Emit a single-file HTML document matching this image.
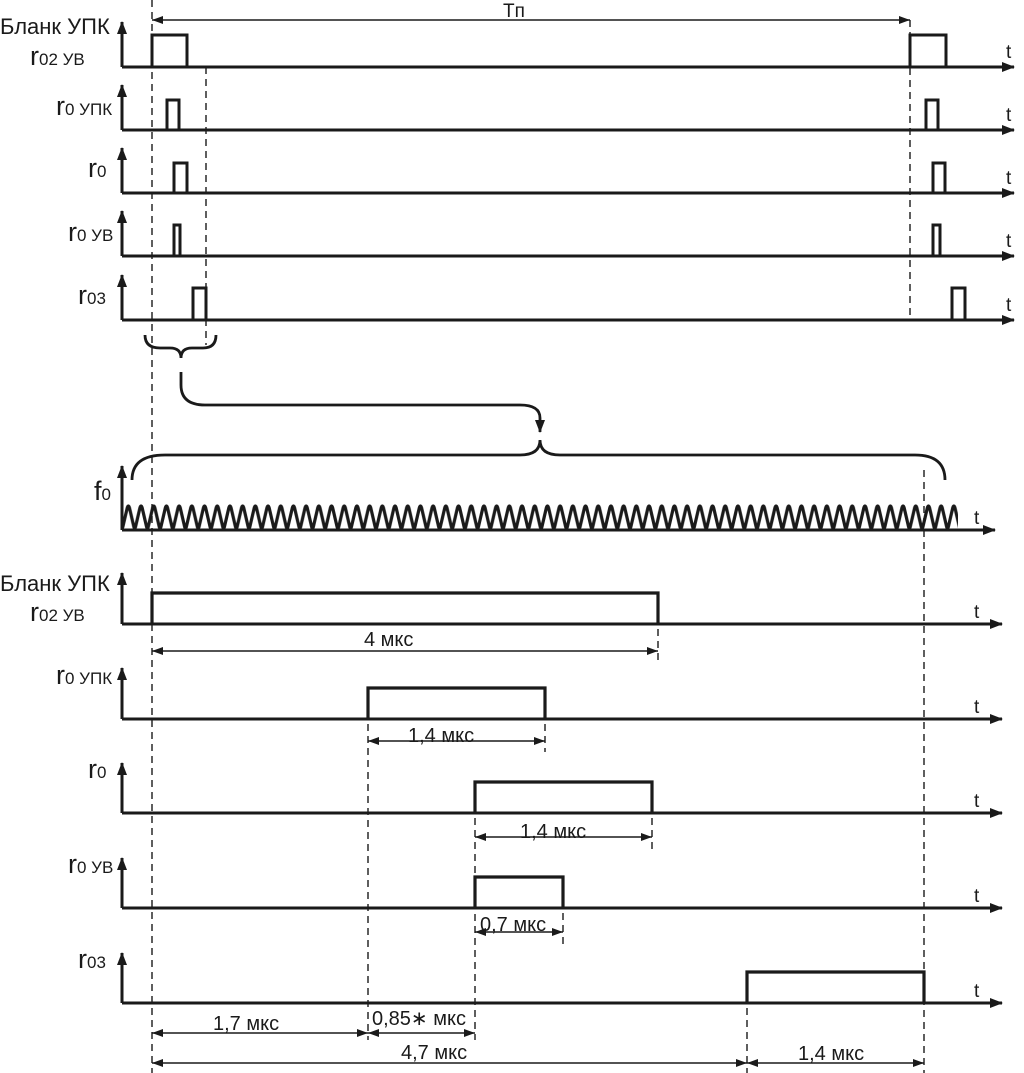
<!DOCTYPE html>
<html><head><meta charset="utf-8"><style>html,body{margin:0;padding:0;background:#fff}svg{display:block}</style></head>
<body>
<svg width="1024" height="1073" viewBox="0 0 1024 1073" xmlns="http://www.w3.org/2000/svg" font-family="Liberation Sans, DejaVu Sans, sans-serif" fill="none" stroke="#1a1a1a">
<defs>
<marker id="ah" markerWidth="14" markerHeight="10" refX="12" refY="5" orient="auto" markerUnits="userSpaceOnUse"><path d="M0,0 L13,5 L0,10 Z" fill="#1a1a1a" stroke="none"/></marker>
<marker id="as" markerWidth="12" markerHeight="8" refX="11" refY="4" orient="auto" markerUnits="userSpaceOnUse"><path d="M0,0 L11,4 L0,8 Z" fill="#1a1a1a" stroke="none"/></marker>
<pattern id="wv" patternUnits="userSpaceOnUse" x="122" y="500" width="12.7" height="34"><path d="M-3.2,17 L-0.8,27 Q0,30 0.8,27 L5.2,8 Q6.35,4 7.5,8 L11.9,27 Q12.7,30 13.5,27 L15.9,17" stroke="#1a1a1a" stroke-width="3.2" stroke-linejoin="round" fill="none"/></pattern>
</defs>

<g stroke-width="1.4" stroke-dasharray="7,5">
<line x1="152" y1="0" x2="152" y2="1073"/>
<line x1="206" y1="67" x2="206" y2="345"/>
<line x1="910" y1="20" x2="910" y2="320"/>
<line x1="924" y1="470" x2="924" y2="1073"/>
<line x1="658" y1="593" x2="658" y2="665"/>
<line x1="368" y1="688" x2="368" y2="1040"/>
<line x1="545" y1="688" x2="545" y2="752"/>
<line x1="475" y1="782" x2="475" y2="1040"/>
<line x1="652" y1="782" x2="652" y2="850"/>
<line x1="563" y1="877" x2="563" y2="945"/>
<line x1="747" y1="972" x2="747" y2="1073"/>
</g>

<line x1="152" y1="20" x2="910" y2="20" stroke-width="1.4" marker-end="url(#as)"/>
<text x="503" y="17" font-size="19" fill="#1a1a1a" stroke="none">Tп</text>

<g stroke-width="3">
<line x1="122" y1="67" x2="122" y2="22" marker-end="url(#ah)"/>
<line x1="122" y1="130" x2="122" y2="85" marker-end="url(#ah)"/>
<line x1="122" y1="193" x2="122" y2="148" marker-end="url(#ah)"/>
<line x1="122" y1="256" x2="122" y2="211" marker-end="url(#ah)"/>
<line x1="122" y1="320" x2="122" y2="275" marker-end="url(#ah)"/>
<line x1="122" y1="67" x2="1014" y2="67" marker-end="url(#ah)"/>
<line x1="122" y1="130" x2="1014" y2="130" marker-end="url(#ah)"/>
<line x1="122" y1="193" x2="1014" y2="193" marker-end="url(#ah)"/>
<line x1="122" y1="256" x2="1014" y2="256" marker-end="url(#ah)"/>
<line x1="122" y1="320" x2="1014" y2="320" marker-end="url(#ah)"/>
<path d="M152,67 V35 H187 V67 M910,67 V35 H946 V67"/>
<path d="M167,130 V100 H179 V130 M926,130 V100 H938 V130"/>
<path d="M174,193 V163 H187 V193 M933,193 V163 H945 V193"/>
<path d="M174,256 V225 H180 V256 M933,256 V225 H940 V256"/>
<path d="M193,320 V288 H206 V320 M952,320 V288 H965 V320"/>
</g>
<g fill="#1a1a1a" stroke="none" font-size="19">
<text x="1006" y="58">t</text><text x="1006" y="121">t</text><text x="1006" y="184">t</text><text x="1006" y="247">t</text><text x="1006" y="311">t</text>
<text x="0" y="34" font-size="22">Бланк УПК</text>
<text x="30" y="65" font-size="27">r<tspan font-size="17">02 УВ</tspan></text>
<text x="56" y="115" font-size="27">r<tspan font-size="17">0 УПК</tspan></text>
<text x="88" y="177" font-size="27">r<tspan font-size="17">0</tspan></text>
<text x="68" y="241" font-size="27">r<tspan font-size="17">0 УВ</tspan></text>
<text x="78" y="304" font-size="27">r<tspan font-size="17">03</tspan></text>
</g>

<g stroke-width="2.8">
<path d="M145,335 Q145,348 160,348 H170 Q181,348 181,358 Q181,348 192,348 H203 Q216,348 216,335"/>
<path d="M181,372 V385 Q181,405 205,405 H520 Q540,405 540,418 V432" marker-end="url(#ah)"/>
<path d="M132,480 Q132,455 165,455 H520 Q540,455 540,440 Q540,455 560,455 H915 Q945,455 945,480"/>
</g>

<g stroke-width="3">
<line x1="122" y1="530" x2="122" y2="466" marker-end="url(#ah)"/>
<line x1="122" y1="530" x2="995" y2="530" marker-end="url(#ah)"/>
</g>
<rect x="122" y="500" width="836" height="32" fill="url(#wv)" stroke="none"/>
<g fill="#1a1a1a" stroke="none">
<text x="94" y="500" font-size="27">f<tspan font-size="17">0</tspan></text>
<text x="974" y="524" font-size="19">t</text>
</g>

<g stroke-width="3">
<line x1="122" y1="624" x2="122" y2="573" marker-end="url(#ah)"/>
<line x1="122" y1="719" x2="122" y2="668" marker-end="url(#ah)"/>
<line x1="122" y1="813" x2="122" y2="763" marker-end="url(#ah)"/>
<line x1="122" y1="908" x2="122" y2="858" marker-end="url(#ah)"/>
<line x1="122" y1="1003" x2="122" y2="953" marker-end="url(#ah)"/>
<line x1="122" y1="624" x2="1002" y2="624" marker-end="url(#ah)"/>
<line x1="122" y1="719" x2="1002" y2="719" marker-end="url(#ah)"/>
<line x1="122" y1="813" x2="1002" y2="813" marker-end="url(#ah)"/>
<line x1="122" y1="908" x2="1002" y2="908" marker-end="url(#ah)"/>
<line x1="122" y1="1003" x2="1002" y2="1003" marker-end="url(#ah)"/>
</g>
<g stroke-width="3.2">
<path d="M152,624 V593 H658 V624"/>
<path d="M368,719 V688 H545 V719"/>
<path d="M475,813 V782 H652 V813"/>
<path d="M475,908 V877 H563 V908"/>
<path d="M747,1003 V972 H924 V1003"/>
</g>
<g stroke-width="1.4">
<line x1="152" y1="651" x2="658" y2="651" marker-end="url(#as)"/>
<line x1="368" y1="741" x2="545" y2="741" marker-end="url(#as)"/>
<line x1="475" y1="837" x2="652" y2="837" marker-end="url(#as)"/>
<line x1="475" y1="932" x2="563" y2="932" marker-end="url(#as)"/>
<line x1="152" y1="1033" x2="368" y2="1033" marker-end="url(#as)"/>
<line x1="368" y1="1033" x2="475" y2="1033" marker-end="url(#as)"/>
<line x1="152" y1="1063" x2="747" y2="1063" marker-end="url(#as)"/>
<line x1="747" y1="1063" x2="924" y2="1063" marker-end="url(#as)"/>
</g>
<g fill="#1a1a1a" stroke="none">
<path d="M152,651 l11,-4 v8z M368,741 l11,-4 v8z M475,837 l11,-4 v8z M475,932 l11,-4 v8z M152,1033 l11,-4 v8z M368,1033 l11,-4 v8z M152,1063 l11,-4 v8z M747,1063 l11,-4 v8z M152,20 l11,-4 v8z"/>
</g>
<g fill="#1a1a1a" stroke="none" font-size="20">
<text x="364" y="646">4 мкс</text>
<text x="408" y="742">1,4 мкс</text>
<text x="520" y="838">1,4 мкс</text>
<text x="480" y="931">0,7 мкс</text>
<text x="213" y="1030">1,7 мкс</text>
<text x="372" y="1025">0,85∗ мкс</text>
<text x="401" y="1059">4,7 мкс</text>
<text x="798" y="1060">1,4 мкс</text>
<g font-size="19">
<text x="974" y="618">t</text><text x="974" y="713">t</text><text x="974" y="807">t</text><text x="974" y="902">t</text><text x="974" y="997">t</text>
</g>
<text x="0" y="591" font-size="22">Бланк УПК</text>
<text x="30" y="621" font-size="27">r<tspan font-size="17">02 УВ</tspan></text>
<text x="56" y="684" font-size="27">r<tspan font-size="17">0 УПК</tspan></text>
<text x="88" y="778" font-size="27">r<tspan font-size="17">0</tspan></text>
<text x="68" y="873" font-size="27">r<tspan font-size="17">0 УВ</tspan></text>
<text x="78" y="968" font-size="27">r<tspan font-size="17">03</tspan></text>
</g>
</svg>
</body></html>
